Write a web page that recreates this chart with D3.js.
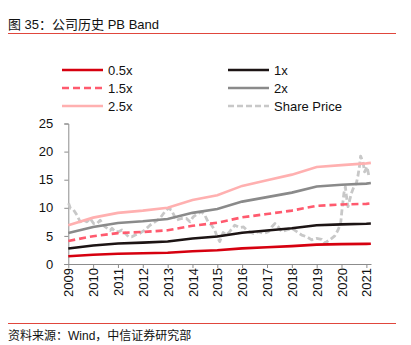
<!DOCTYPE html>
<html>
<head>
<meta charset="utf-8">
<script src="https://cdn.jsdelivr.net/npm/d3@7"></script>
<style>
  html, body { margin: 0; padding: 0; background: #fff; }
  svg { display: block; font-family: "Liberation Sans", Arial, "Noto Sans CJK SC", sans-serif; }
</style>
</head>
<body>
<svg id="chart" width="411" height="345"></svg>
<script>
// Band anchor dates (start of each year, plus latest point)
const bandDates = ["2009-01-01","2010-01-01","2011-01-01","2012-01-01","2013-01-01","2014-01-01",
  "2015-01-01","2016-01-01","2017-01-01","2018-01-01","2019-01-01","2020-01-01","2021-01-01","2021-03-08"];

// PB band values (price level at each multiple of book value per share)
const band05 = [1.38,1.65,1.83,1.90,2.00,2.28,2.45,2.78,2.98,3.18,3.45,3.53,3.58,3.60];
const band10 = [2.75,3.30,3.65,3.80,4.00,4.55,4.90,5.55,5.95,6.35,6.90,7.05,7.15,7.20];
const band15 = [4.10,4.95,5.50,5.70,6.00,6.80,7.35,8.30,8.90,9.50,10.35,10.60,10.70,10.80];
const band20 = [5.50,6.60,7.30,7.60,8.00,9.10,9.80,11.10,11.90,12.70,13.80,14.10,14.30,14.40];
const band25 = [6.90,8.25,9.10,9.50,10.00,11.40,12.25,13.90,14.90,15.90,17.25,17.60,17.90,18.00];

// Share price history
const priceDates = ["2009-01-05","2009-02-01","2009-03-20","2009-05-08","2009-06-25","2009-08-15",
  "2009-10-01","2009-11-18","2010-01-08","2010-02-25","2010-04-15","2010-06-03","2010-06-28",
  "2010-09-10","2010-10-05","2010-11-22","2011-01-12","2011-03-01","2011-04-18","2011-06-05",
  "2011-07-24","2011-09-12","2011-11-18","2012-02-01","2012-04-16","2012-06-28","2012-09-08",
  "2012-11-20","2013-01-08","2013-02-28","2013-03-22","2013-05-10","2013-07-22","2013-10-05",
  "2013-11-24","2014-01-12","2014-03-25","2014-05-14","2014-07-01","2014-08-18","2014-10-08",
  "2014-11-25","2014-12-28","2015-02-06","2015-03-28","2015-05-16","2015-07-02","2015-09-15",
  "2015-11-28","2016-01-22","2016-04-05","2016-06-18","2016-08-30","2016-11-10","2017-01-22",
  "2017-03-10","2017-04-28","2017-06-16","2017-08-06","2017-10-18","2018-01-01","2018-03-15",
  "2018-05-27","2018-08-08","2018-10-20","2019-01-01","2019-03-15","2019-04-30","2019-07-12",
  "2019-09-24","2019-11-11","2019-12-20","2020-01-08","2020-02-06","2020-02-27","2020-03-14",
  "2020-04-06","2020-05-01","2020-05-26","2020-07-02","2020-08-07","2020-08-29","2020-09-24",
  "2020-10-08","2020-11-11","2020-12-06","2021-01-10","2021-02-05"];
const priceValues = [10.8,9.9,9.6,8.7,7.5,7.8,
  7.5,8.1,7.2,7.2,7.8,6.9,6.6,
  6.0,6.35,5.75,5.75,6.05,5.45,4.85,
  4.85,5.15,5.45,6.05,6.9,7.5,8.1,
  9.3,9.9,9.6,9.0,7.8,8.1,8.1,
  7.5,8.4,9.0,9.3,8.7,7.5,6.9,
  6.05,4.85,4.0,5.6,5.15,5.75,6.9,
  6.5,6.6,5.75,5.45,5.75,5.45,5.75,
  6.6,7.2,6.6,5.75,6.05,6.35,5.75,
  5.15,4.85,4.3,4.55,4.4,3.7,4.3,
  5.0,6.05,7.2,9.6,12.6,13.75,12.0,
  10.2,11.4,12.6,13.75,14.4,15.6,17.6,
  19.2,18.2,16.4,17.3,15.8];

const yTicks = [0, 5, 10, 15, 20, 25];
const xTickYears = d3.range(2009, 2022);

const seriesNames = ["0.5x", "1x", "1.5x", "2x", "2.5x", "Share Price"];
const seriesColors = ["#d6000f", "#1c1414", "#ff5a6e", "#8a8a8a", "#ffb0b0", "#c8c8c8"];
const seriesDash = [null, null, "7,4", null, null, "6,3"];

const parse = d3.timeParse("%Y-%m-%d");
const svg = d3.select("#chart");

// Header and footer
svg.append("text").attr("x", 8).attr("y", 29)
  .attr("font-size", 13).attr("fill", "#111")
  .text("图 35：公司历史 PB Band");
svg.append("line").attr("x1", 8).attr("x2", 396).attr("y1", 33.5).attr("y2", 33.5)
  .attr("stroke", "#e0463c").attr("stroke-width", 1);
svg.append("line").attr("x1", 8).attr("x2", 396).attr("y1", 323.5).attr("y2", 323.5)
  .attr("stroke", "#e0463c").attr("stroke-width", 1);
svg.append("text").attr("x", 8).attr("y", 340)
  .attr("font-size", 12).attr("fill", "#111")
  .text("资料来源：Wind，中信证券研究部");

// Scales
const x = d3.scaleTime()
  .domain([parse("2009-01-01"), parse("2021-03-10")])
  .range([68.3, 371]);
const y = d3.scaleLinear().domain([0, 25]).range([264, 123.5]);

// Axes
const yAxis = d3.axisLeft(y).tickValues(yTicks).tickSize(4).tickPadding(11);
const gy = svg.append("g").attr("transform", "translate(68.3,0)").call(yAxis);
gy.select(".domain").attr("stroke", "#8c8c8c");
gy.selectAll(".tick line").attr("stroke", "#8c8c8c");
gy.selectAll(".tick text").attr("font-size", 13).attr("fill", "#111")
  .style("font-family", "'Liberation Sans', Arial, sans-serif");

const xAxis = d3.axisBottom(x)
  .tickValues(xTickYears.map(yr => new Date(yr, 0, 1)))
  .tickFormat(d3.timeFormat("%Y")).tickSize(4).tickSizeOuter(0);
const gx = svg.append("g").attr("transform", "translate(0,264)").call(xAxis);
gx.select(".domain").attr("stroke", "#8c8c8c");
gx.selectAll(".tick line").attr("stroke", "#8c8c8c");
gx.selectAll(".tick text")
  .attr("font-size", 13).attr("fill", "#111")
  .style("font-family", "'Liberation Sans', Arial, sans-serif")
  .attr("transform", "rotate(-90)")
  .attr("text-anchor", "end")
  .attr("x", -4).attr("y", 0).attr("dy", "0.35em");

// Lines
const line = d3.line().x(d => x(d[0])).y(d => y(d[1]));
const bandSeries = [band05, band10, band15, band20, band25];
const plot = svg.append("g");

const pricePts = priceDates.map((d, i) => [parse(d), priceValues[i]]);
plot.append("path").datum(pricePts)
  .attr("d", line).attr("fill", "none")
  .attr("stroke", seriesColors[5]).attr("stroke-width", 2.8)
  .attr("stroke-dasharray", seriesDash[5]).attr("stroke-linejoin", "round");

bandSeries.forEach((vals, k) => {
  const pts = bandDates.map((d, i) => [parse(d), vals[i]]);
  plot.append("path").datum(pts)
    .attr("d", line).attr("fill", "none")
    .attr("stroke", seriesColors[k]).attr("stroke-width", 2.6)
    .attr("stroke-dasharray", seriesDash[k]);
});

// Legend (two columns)
const legendPos = [[62, 70], [228, 70], [62, 88], [228, 88], [62, 106], [228, 106]];
const legend = svg.append("g");
seriesNames.forEach((name, i) => {
  const [lx, ly] = legendPos[i];
  legend.append("line").attr("x1", lx).attr("x2", lx + 41)
    .attr("y1", ly).attr("y2", ly)
    .attr("stroke", seriesColors[i]).attr("stroke-width", 2.6)
    .attr("stroke-dasharray", seriesDash[i]);
  legend.append("text").attr("x", lx + 46).attr("y", ly).attr("dy", "0.35em")
    .attr("font-size", 13).attr("fill", "#111").text(name);
});
</script>
</body>
</html>
